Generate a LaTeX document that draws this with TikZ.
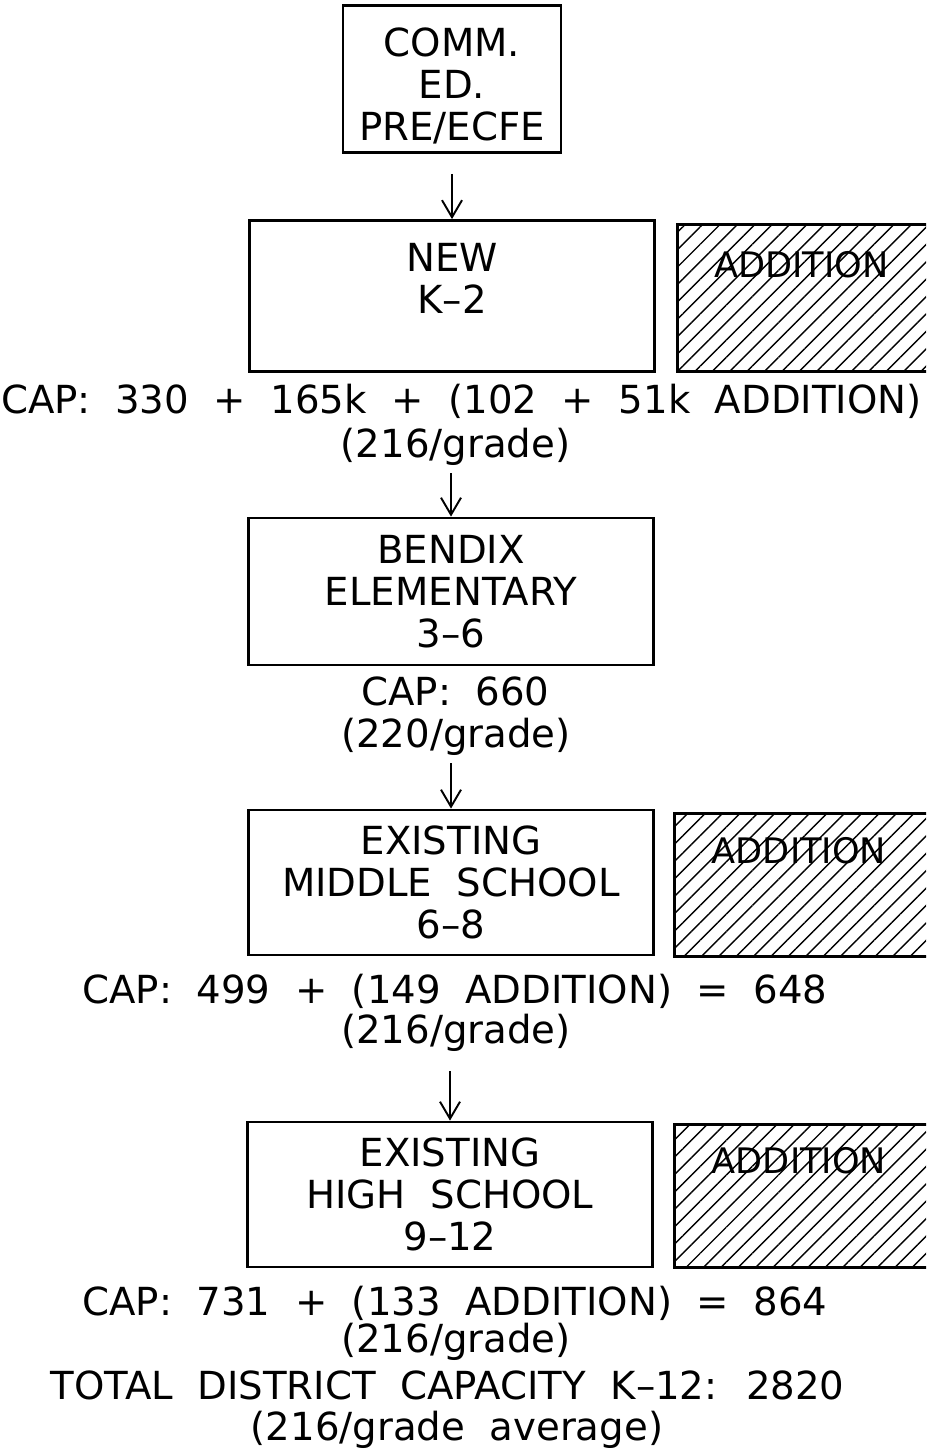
\documentclass[tikz,border=0pt]{standalone}
\usepackage{fontspec}
\setmainfont{DejaVu Sans}[WordSpace=2]
\usetikzlibrary{arrows.meta,patterns.meta}

\begin{document}
\begin{tikzpicture}[x=0.2mm, y=-0.2mm,
  font=\fontsize{22pt}{24pt}\selectfont,
  school/.style={draw, line width=1.6pt, align=center, inner sep=0pt,
                 minimum width=81mm},
  captext/.style={anchor=base, inner sep=0pt},
  addtext/.style={anchor=base, inner sep=0pt, font=\fontsize{20pt}{20pt}\selectfont},
  hatch/.style={draw, line width=1.6pt,
                pattern={Lines[angle=45, distance=7pt, line width=0.8pt]}},
  flow/.style={-{Straight Barb[length=3.4mm, width=4mm]}, line width=1.1pt}]
\useasboundingbox (0,0) rectangle (926,1449);
\clip (0,0) rectangle (926,1449);
% schools
\node[school, minimum width=43.6mm, minimum height=29.4mm] (comm) at (452,79) {\rule{0pt}{24pt}COMM.\\ED.\\PRE/ECFE};
\node[school, minimum height=30.2mm] (new)    at (452,296)    {NEW\\K–2\\[-4pt]\phantom{X}};
\node[school, minimum height=29.4mm] (bendix) at (451,591.5)  {BENDIX\\ELEMENTARY\\3–6};
\node[school, minimum height=29mm]   (middle) at (451,882.5)  {EXISTING\\MIDDLE SCHOOL\\6–8};
\node[school, minimum height=29mm]   (high)   at (450,1194.5) {EXISTING\\HIGH SCHOOL\\9–12};
% additions
\draw[hatch] (677.5,224.5) rectangle (940,371.5);
\draw[hatch] (674.5,813.5) rectangle (940,956.5);
\draw[hatch] (674.5,1124.5) rectangle (940,1267.5);
\node[addtext] (add1) at (801.5,277) {ADDITION};
\node[addtext] (add2) at (799,863)   {ADDITION};
\node[addtext] (add3) at (799,1173)  {ADDITION};
% capacities
\node[captext] (cap1)   at (461.5,413) {CAP: 330 + 165k + (102 + 51k ADDITION)};
\node[captext] (grade1) at (455.5,457) {(216/grade)};
\node[captext] (cap2)   at (455.5,705) {CAP: 660};
\node[captext] (grade2) at (456,747)   {(220/grade)};
\node[captext] (cap3)   at (455,1003)  {CAP: 499 + (149 ADDITION) = 648};
\node[captext] (grade3) at (456,1043)  {(216/grade)};
\node[captext] (cap4)   at (455,1315)  {CAP: 731 + (133 ADDITION) = 864};
\node[captext] (grade4) at (456,1352)  {(216/grade)};
\node[captext] (total)  at (447.5,1399) {TOTAL DISTRICT CAPACITY K–12: 2820};
\node[captext] (avg)    at (457,1440)  {(216/grade average)};
% flow
\draw[flow, shorten <=4mm] (comm) -- (new);
\draw[flow, shorten <=1.6mm] (grade1.south -| bendix.north) -- (bendix.north);
\draw[flow, shorten <=1.6mm] (grade2.south -| middle.north) -- (middle.north);
\draw[flow, shorten <=4mm] (grade3.south -| high.north) -- (high.north);
\end{tikzpicture}
\end{document}
